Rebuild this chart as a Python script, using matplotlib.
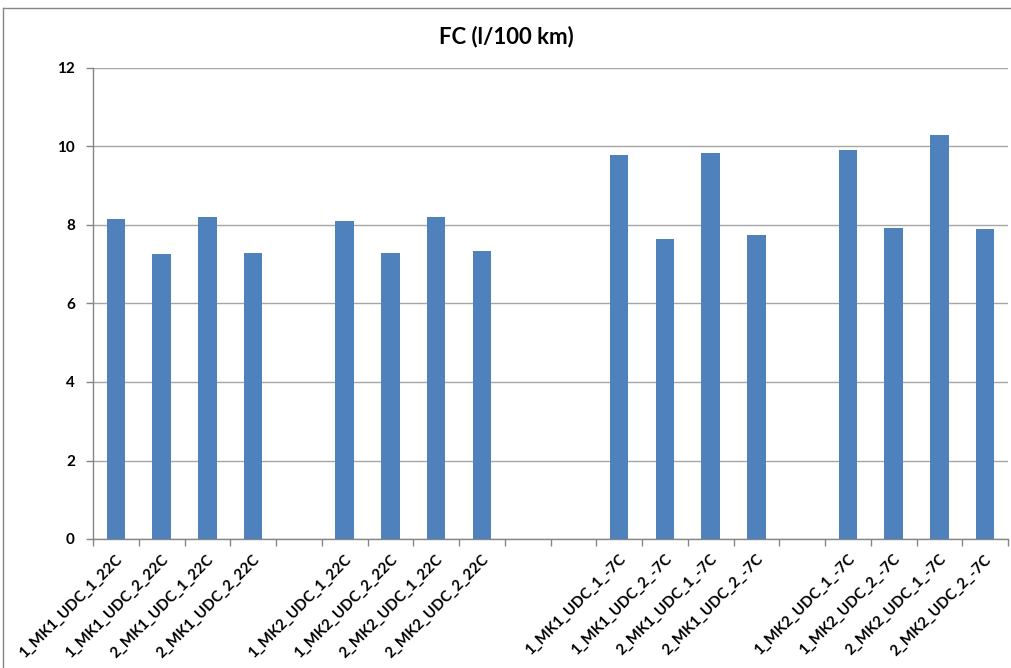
import matplotlib
matplotlib.use("Agg")
import matplotlib.pyplot as plt
import matplotlib.transforms as mtransforms
import numpy as np
from matplotlib.lines import Line2D

plt.rcParams["font.family"] = ["Lato", "DejaVu Sans"]

# empty strings / None are the spacer slots between the test groups
labels = [
    "1_MK1_UDC_1_22C", "1_MK1_UDC_2_22C", "2_MK1_UDC_1_22C", "2_MK1_UDC_2_22C",
    "",
    "1_MK2_UDC_1_22C", "1_MK2_UDC_2_22C", "2_MK2_UDC_1_22C", "2_MK2_UDC_2_22C",
    "", "",
    "1_MK1_UDC_1_-7C", "1_MK1_UDC_2_-7C", "2_MK1_UDC_1_-7C", "2_MK1_UDC_2_-7C",
    "",
    "1_MK2_UDC_1_-7C", "1_MK2_UDC_2_-7C", "2_MK2_UDC_1_-7C", "2_MK2_UDC_2_-7C",
]
fc = [
    8.15, 7.27, 8.20, 7.29,
    None,
    8.10, 7.28, 8.20, 7.34,
    None, None,
    9.78, 7.64, 9.83, 7.75,
    None,
    9.92, 7.92, 10.30, 7.90,
]

BLUE = "#4F81BD"
GRID = "#A6A6A6"
AXIS = "#868686"

x = np.arange(len(labels))
vals = np.array([np.nan if v is None else v for v in fc])

fig = plt.figure(figsize=(10.12, 6.68), dpi=100)
ax = fig.add_axes([93 / 1012, 1 - 539 / 668, (1008 - 93) / 1012, (539 - 68) / 668])

ax.bar(x, vals, width=0.4, color=BLUE, zorder=3)

ax.set_xlim(-0.5, len(labels) - 0.5)
ax.set_ylim(0, 12)
ax.set_yticks(np.arange(0, 13, 2))
ax.grid(axis="y", color=GRID, linewidth=1.0, zorder=0)

# category ticks sit on the boundaries between slots
ax.set_xticks(np.arange(-0.5, len(labels)))
ax.set_xticklabels([])
ax.tick_params(axis="x", length=5, color=AXIS, width=1)
ax.tick_params(axis="y", length=5, color=AXIS, width=1, labelsize=11, pad=8)
for t in ax.get_yticklabels():
    t.set_fontweight("bold")

# slanted category names, right end just under each bar
offset = mtransforms.ScaledTranslation(3 / 72, -13 / 72, fig.dpi_scale_trans)
lab_tf = ax.get_xaxis_transform() + offset
for xi, name in zip(x, labels):
    if name:
        ax.text(xi, 0, name, transform=lab_tf, rotation=45, rotation_mode="anchor",
                ha="right", va="center", fontsize=10.8, fontweight="bold")

for s in ("top", "right"):
    ax.spines[s].set_visible(False)
for s in ("left", "bottom"):
    ax.spines[s].set_color(AXIS)
    ax.spines[s].set_linewidth(1)

fig.text(0.5, 1 - 37 / 668, "FC (l/100 km)", ha="center", va="center",
         fontsize=16, fontweight="bold")

# chart frame
fig.add_artist(Line2D([3 / 1012, 1], [1 - 8 / 668] * 2, color=AXIS, linewidth=1))
fig.add_artist(Line2D([3 / 1012] * 2, [0, 1 - 8 / 668], color=AXIS, linewidth=1))

fig.savefig("out.png", dpi=100)
